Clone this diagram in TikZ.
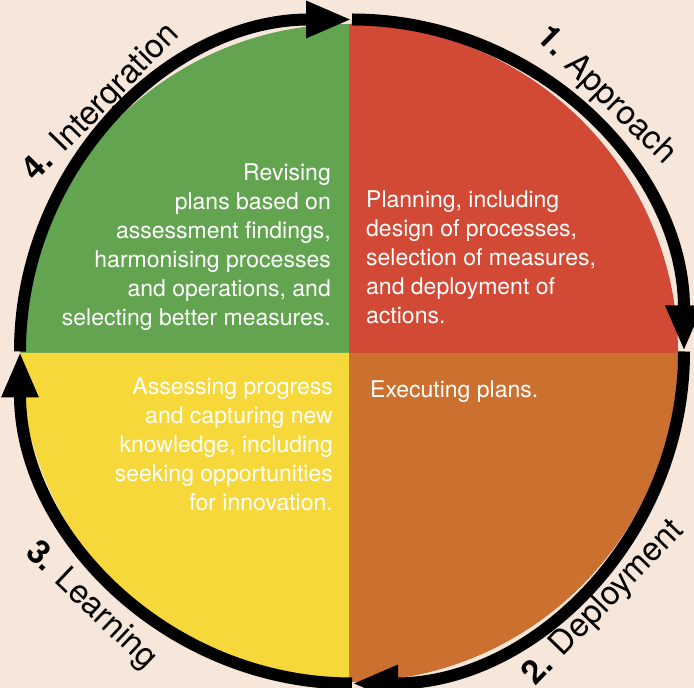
\documentclass[tikz,border=0pt]{standalone}
\usepackage{fontspec}
\setmainfont{TeX Gyre Heros}
\usetikzlibrary{arrows.meta}
\definecolor{bg}{RGB}{247,230,218}
\definecolor{qgreen}{RGB}{99,164,81}
\definecolor{qred}{RGB}{210,74,53}
\definecolor{qorange}{RGB}{203,112,46}
\definecolor{qyellow}{RGB}{247,216,58}
\begin{document}
\begin{tikzpicture}[x=1pt,y=1pt,
  ring/.style={line width=12pt, -{Triangle[length=46pt,width=34pt]}},
  body/.style={text=white, font=\fontsize{23}{29}\selectfont, inner sep=0pt},
  lab/.style={font=\fontsize{33}{38}\selectfont, inner sep=0pt}]
\fill[bg] (0,0) rectangle (694,688);
\useasboundingbox (0,0) rectangle (694,688);
\coordinate (O) at (349,335);
\coordinate (C) at (352,336.5);
% quadrants
\fill[qgreen]  (O) -- ++(180:329) arc[start angle=180,end angle=90,radius=329] -- cycle;
\fill[qred]    (O) -- ++(90:329) arc[start angle=90,end angle=0,radius=329] -- cycle;
\fill[qorange] (O) -- ++(0:329) arc[start angle=0,end angle=-90,radius=329] -- cycle;
\fill[qyellow] (O) -- ++(-90:329) arc[start angle=-90,end angle=-180,radius=329] -- cycle;
% ring with arrows
\draw[ring] ([shift={(180:332)}]C) arc[start angle=180,end angle=90,radius=332];
\draw[ring] ([shift={(90:332)}]C) arc[start angle=90,end angle=0,radius=332];
\draw[ring] ([shift={(0:332)}]C) arc[start angle=0,end angle=-90,radius=332];
\draw[ring] ([shift={(-90:332)}]C) arc[start angle=-90,end angle=-180,radius=332];
% body texts
\node[body, anchor=north east, align=right] (tg) at (331,524) {Revising\\plans based on\\assessment findings,\\harmonising processes\\and operations, and\\selecting better measures.};
\node[body, anchor=north west, align=left] (tr) at (366,497) {Planning, including\\design of processes,\\selection of measures,\\and deployment of\\actions.};
\node[body, anchor=north west, align=left] (to) at (370,307) {Executing plans.};
\node[body, anchor=north east, align=right] (ty) at (333,310) {Assessing progress\\and capturing new\\knowledge, including\\seeking opportunities\\for innovation.};
% labels
\node[lab, rotate=-44.5] (l1) at (606,592) {\textbf{1.} Approach};
\node[lab, rotate=46] (l2) at (604,85) {\textbf{2.} Deployment};
\node[lab, rotate=-43.5] (l3) at (91,82) {\textbf{3.} Learning};
\node[lab, rotate=45.5] (l4) at (102,585) {\textbf{4.} Intergration};
\end{tikzpicture}
\end{document}
